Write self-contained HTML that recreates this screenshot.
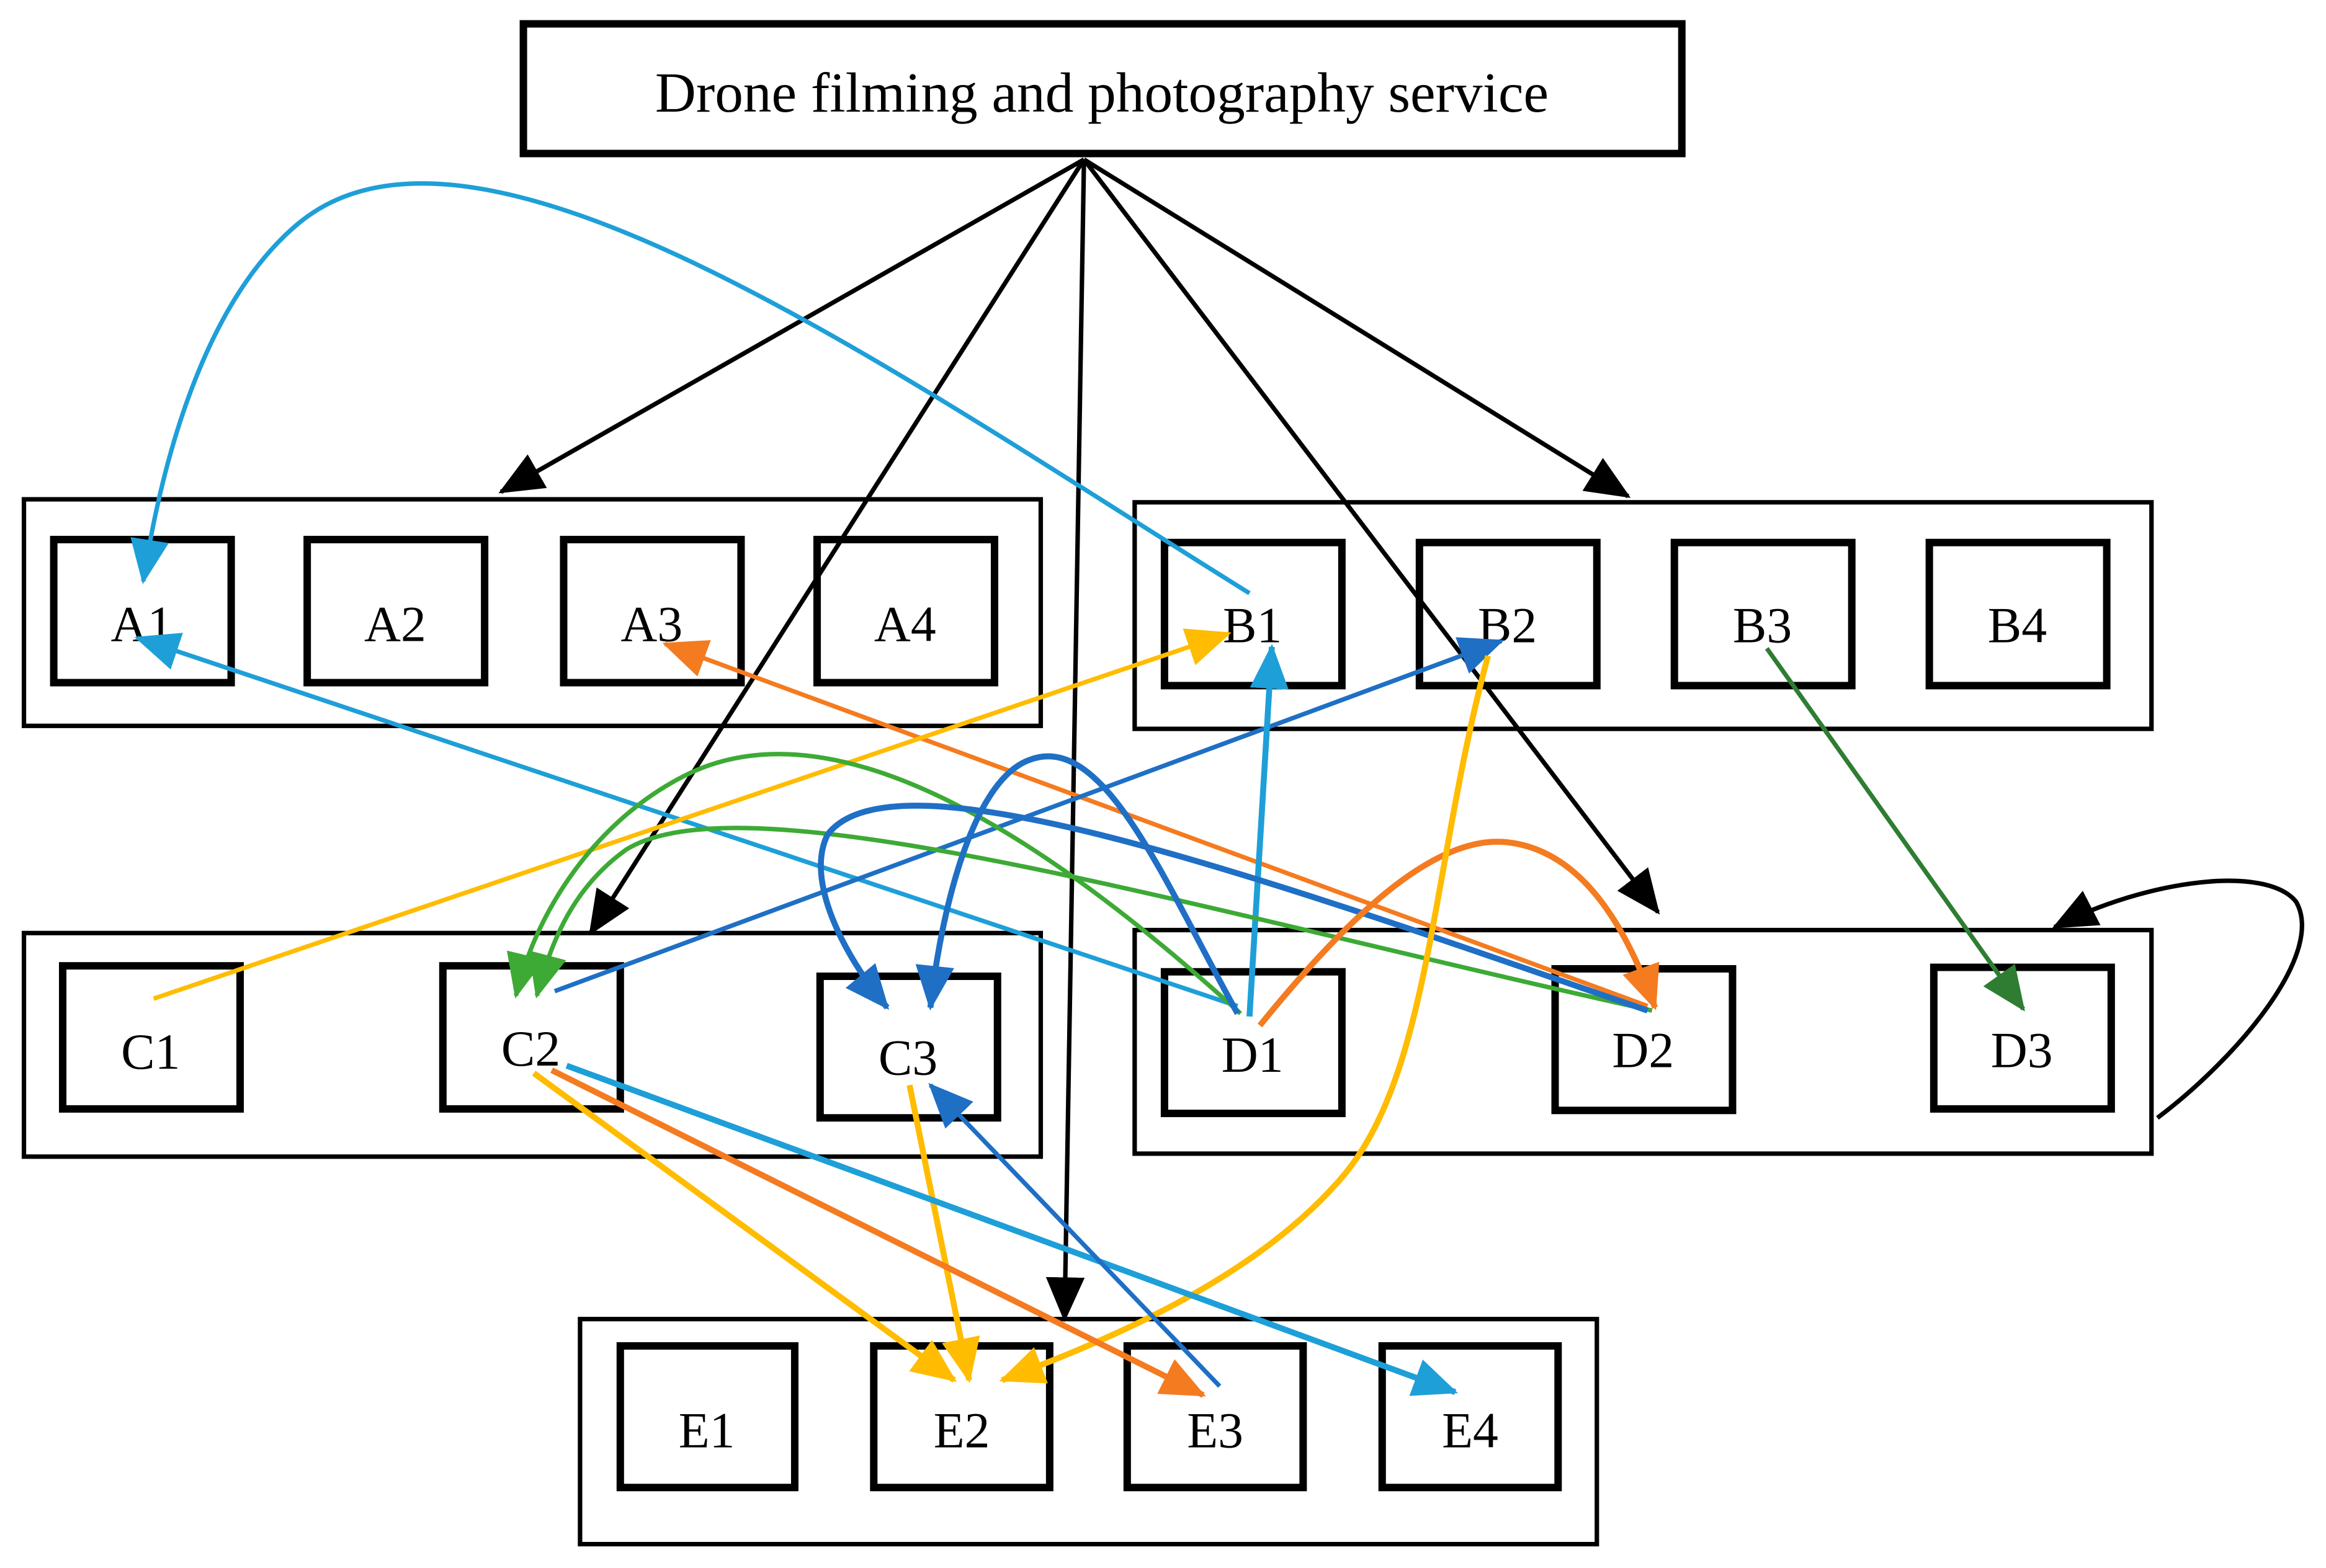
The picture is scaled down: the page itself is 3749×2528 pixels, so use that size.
<!DOCTYPE html>
<html><head><meta charset="utf-8"><style>
html,body{margin:0;padding:0;background:#fff;}
svg{display:block;}
text{font-family:"Liberation Serif",serif;}
</style></head><body>
<svg width="3749" height="2528" viewBox="0 0 1560 1052" xmlns="http://www.w3.org/2000/svg">
<defs>
<marker id="k" markerUnits="userSpaceOnUse" markerWidth="32" markerHeight="28" refX="28" refY="13" orient="auto"><path d="M0,0 L30,13 L0,26 Z" fill="#000"/></marker>
<marker id="lb" markerUnits="userSpaceOnUse" markerWidth="32" markerHeight="28" refX="28" refY="13" orient="auto"><path d="M0,0 L30,13 L0,26 Z" fill="#1E9FD8"/></marker>
<marker id="db" markerUnits="userSpaceOnUse" markerWidth="32" markerHeight="28" refX="28" refY="13" orient="auto"><path d="M0,0 L30,13 L0,26 Z" fill="#1F6FC5"/></marker>
<marker id="or" markerUnits="userSpaceOnUse" markerWidth="32" markerHeight="28" refX="28" refY="13" orient="auto"><path d="M0,0 L30,13 L0,26 Z" fill="#F47B20"/></marker>
<marker id="ye" markerUnits="userSpaceOnUse" markerWidth="32" markerHeight="28" refX="28" refY="13" orient="auto"><path d="M0,0 L30,13 L0,26 Z" fill="#FFBC00"/></marker>
<marker id="gr" markerUnits="userSpaceOnUse" markerWidth="32" markerHeight="28" refX="28" refY="13" orient="auto"><path d="M0,0 L30,13 L0,26 Z" fill="#3DAA35"/></marker>
<marker id="dg" markerUnits="userSpaceOnUse" markerWidth="32" markerHeight="28" refX="28" refY="13" orient="auto"><path d="M0,0 L30,13 L0,26 Z" fill="#2E7D32"/></marker>
</defs>
<rect width="1560" height="1052" fill="#fff"/>
<rect x="351" y="16" width="777" height="87" fill="none" stroke="#000" stroke-width="5"/>
<text x="739" y="75" font-size="38" text-anchor="middle">Drone filming and photography service</text>
<g fill="none" stroke="#000" stroke-width="3">
<rect x="16" y="335" width="682" height="152"/>
<rect x="761" y="337" width="682" height="152"/>
<rect x="16" y="626" width="682" height="150"/>
<rect x="761" y="624" width="682" height="150"/>
<rect x="389" y="885" width="682" height="151"/>
</g>
<g fill="none" stroke="#000" stroke-width="5">
<rect x="36" y="362" width="119" height="96"/><rect x="206" y="362" width="119" height="96"/><rect x="378" y="362" width="119" height="96"/><rect x="548" y="362" width="119" height="96"/>
<rect x="781" y="364" width="119" height="96"/><rect x="952" y="364" width="119" height="96"/><rect x="1123" y="364" width="119" height="96"/><rect x="1294" y="364" width="119" height="96"/>
<rect x="42" y="648" width="119" height="96"/><rect x="297" y="648" width="119" height="96"/><rect x="550" y="655" width="119" height="95"/>
<rect x="781" y="652" width="119" height="95"/><rect x="1043" y="650" width="119" height="95"/><rect x="1297" y="649" width="119" height="95"/>
<rect x="416" y="903" width="117" height="95"/><rect x="586" y="903" width="118" height="95"/><rect x="756" y="903" width="118" height="95"/><rect x="927" y="903" width="118" height="95"/>
</g>
<g font-size="34" text-anchor="middle">
<text x="95" y="430">A1</text><text x="265" y="430">A2</text><text x="437" y="430">A3</text><text x="607" y="430">A4</text>
<text x="840" y="431">B1</text><text x="1011" y="431">B2</text><text x="1182" y="431">B3</text><text x="1353" y="431">B4</text>
<text x="101" y="717">C1</text><text x="356" y="715">C2</text><text x="609" y="721">C3</text>
<text x="840" y="719">D1</text><text x="1102" y="716">D2</text><text x="1356" y="716">D3</text>
<text x="474" y="971">E1</text><text x="645" y="971">E2</text><text x="815" y="971">E3</text><text x="986" y="971">E4</text>
</g>
<g fill="none" stroke="#000" stroke-width="3" marker-end="url(#k)">
<path d="M727,107 L336,330"/>
<path d="M727,107 L1092,333"/>
<path d="M727,107 L396,626"/>
<path d="M727,107 L714,885"/>
<path d="M727,107 L1112,612"/>
<path d="M1447,750 C1500,710 1560,640 1540,605 C1520,580 1440,590 1378,622"/>
</g>
<g fill="none">
<path d="M838,398 C600,250 320,50 200,150 C140,200 110,300 96,390" stroke="#1E9FD8" stroke-width="3" marker-end="url(#lb)"/>
<path d="M830,675 L92,428" stroke="#1E9FD8" stroke-width="3" marker-end="url(#lb)"/>
<path d="M1105,675 L446,432" stroke="#F47B20" stroke-width="3" marker-end="url(#or)"/>
<path d="M103,670 L824,425" stroke="#FFBC00" stroke-width="3" marker-end="url(#ye)"/>
<path d="M372,665 L1007,430" stroke="#1F6FC5" stroke-width="3" marker-end="url(#db)"/>
<path d="M838,682 L853,434" stroke="#1E9FD8" stroke-width="4" marker-end="url(#lb)"/>
<path d="M832,680 C700,560 560,470 460,520 C400,550 360,610 346,668" stroke="#3DAA35" stroke-width="3" marker-end="url(#gr)"/>
<path d="M1108,678 C800,610 500,520 420,570 C385,595 370,630 360,668" stroke="#3DAA35" stroke-width="3" marker-end="url(#gr)"/>
<path d="M1105,678 C850,590 600,500 555,560 C540,590 565,640 595,676" stroke="#1F6FC5" stroke-width="4" marker-end="url(#db)"/>
<path d="M830,680 C780,590 740,490 690,510 C650,525 630,620 624,676" stroke="#1F6FC5" stroke-width="4" marker-end="url(#db)"/>
<path d="M845,688 C900,620 960,560 1010,565 C1060,570 1090,620 1110,676" stroke="#F47B20" stroke-width="4" marker-end="url(#or)"/>
<path d="M998,440 C960,580 960,720 900,790 C840,860 740,900 672,926" stroke="#FFBC00" stroke-width="4" marker-end="url(#ye)"/>
<path d="M1185,435 L1357,677" stroke="#2E7D32" stroke-width="3" marker-end="url(#dg)"/>
<path d="M358,720 L640,926" stroke="#FFBC00" stroke-width="4" marker-end="url(#ye)"/>
<path d="M610,728 L650,926" stroke="#FFBC00" stroke-width="4" marker-end="url(#ye)"/>
<path d="M370,718 L807,936" stroke="#F47B20" stroke-width="4" marker-end="url(#or)"/>
<path d="M380,715 L976,934" stroke="#1E9FD8" stroke-width="4" marker-end="url(#lb)"/>
<path d="M818,930 L624,728" stroke="#1F6FC5" stroke-width="3" marker-end="url(#db)"/>
</g>
</svg>
</body></html>
